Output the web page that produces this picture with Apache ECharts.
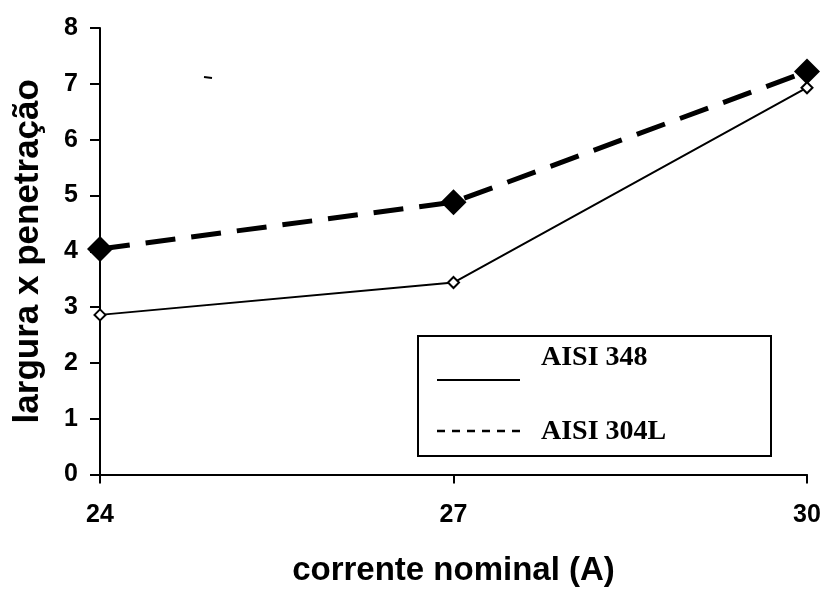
<!DOCTYPE html>
<html><head><meta charset="utf-8">
<script src="https://cdn.jsdelivr.net/npm/echarts@6/dist/echarts.min.js"></script>
<style>html,body{margin:0;padding:0;background:#fff}#c{width:825px;height:592px}</style>
</head><body><div id="c"></div>
<script>
const categories = ['24', '27', '30'];
const aisi348 = [2.86, 3.44, 6.93];
const aisi304L = [4.04, 4.88, 7.22];
const yTicks = [0, 1, 2, 3, 4, 5, 6, 7, 8];
const seriesNames = ['AISI 348', 'AISI 304L'];
const xTitle = 'corrente nominal (A)';
const yTitle = 'largura x penetração';

const chart = echarts.init(document.getElementById('c'), null, {renderer: 'canvas'});
const sans = 'Liberation Sans, Arial, sans-serif';
const serif = 'Liberation Serif, Times New Roman, serif';
chart.setOption({
  animation: false,
  backgroundColor: '#fff',
  grid: {left: 100, right: 18, top: 28, bottom: 111, containLabel: false},
  xAxis: {
    type: 'category', data: categories, boundaryGap: false,
    axisLine: {lineStyle: {color: '#000', width: 2}},
    axisTick: {show: true, length: 9, lineStyle: {color: '#000', width: 2}},
    axisLabel: {color: '#000', fontFamily: sans, fontWeight: 'bold', fontSize: 25, margin: 28},
    splitLine: {show: false},
    name: xTitle, nameLocation: 'middle', nameGap: 96,
    nameTextStyle: {color: '#000', fontFamily: sans, fontWeight: 'bold', fontSize: 33, verticalAlign: 'middle'}
  },
  yAxis: {
    type: 'value', min: yTicks[0], max: yTicks[yTicks.length - 1], interval: 1,
    axisLine: {show: true, lineStyle: {color: '#000', width: 2}},
    axisTick: {show: true, length: 10, lineStyle: {color: '#000', width: 2}},
    axisLabel: {color: '#000', fontFamily: sans, fontWeight: 'bold', fontSize: 25, margin: 22},
    splitLine: {show: false},
    name: yTitle, nameLocation: 'middle', nameGap: 72, nameRotate: 90,
    nameTextStyle: {color: '#000', fontFamily: sans, fontWeight: 'bold', fontSize: 35, verticalAlign: 'middle'}
  },
  series: [
    {
      name: seriesNames[0], type: 'line', data: aisi348,
      symbol: 'diamond', symbolSize: 11,
      lineStyle: {color: '#000', width: 2},
      itemStyle: {color: '#fff', borderColor: '#000', borderWidth: 2},
      z: 3
    },
    {
      name: seriesNames[1], type: 'line', data: aisi304L,
      symbol: 'diamond', symbolSize: 26,
      lineStyle: {color: '#000', width: 5, type: [30, 16]},
      itemStyle: {color: '#000'},
      z: 2
    }
  ],
  graphic: [
    {type: 'line', shape: {x1: 204, y1: 77, x2: 212, y2: 78},
     style: {stroke: '#000', lineWidth: 2}, z: 10},
    {type: 'rect', left: 417, top: 335, shape: {width: 353, height: 120},
     style: {fill: '#fff', stroke: '#000', lineWidth: 2}, z: 10},
    {type: 'line', shape: {x1: 437, y1: 380, x2: 520, y2: 380},
     style: {stroke: '#000', lineWidth: 2}, z: 11},
    {type: 'line', shape: {x1: 437, y1: 431, x2: 527, y2: 431},
     style: {stroke: '#000', lineWidth: 2.5, lineDash: [8, 7]}, z: 11},
    {type: 'text', left: 541, top: 344,
     style: {text: seriesNames[0], font: 'bold 28px ' + serif, fill: '#000'}, z: 11},
    {type: 'text', left: 541, top: 418,
     style: {text: seriesNames[1], font: 'bold 28px ' + serif, fill: '#000'}, z: 11}
  ]
});
</script></body></html>
